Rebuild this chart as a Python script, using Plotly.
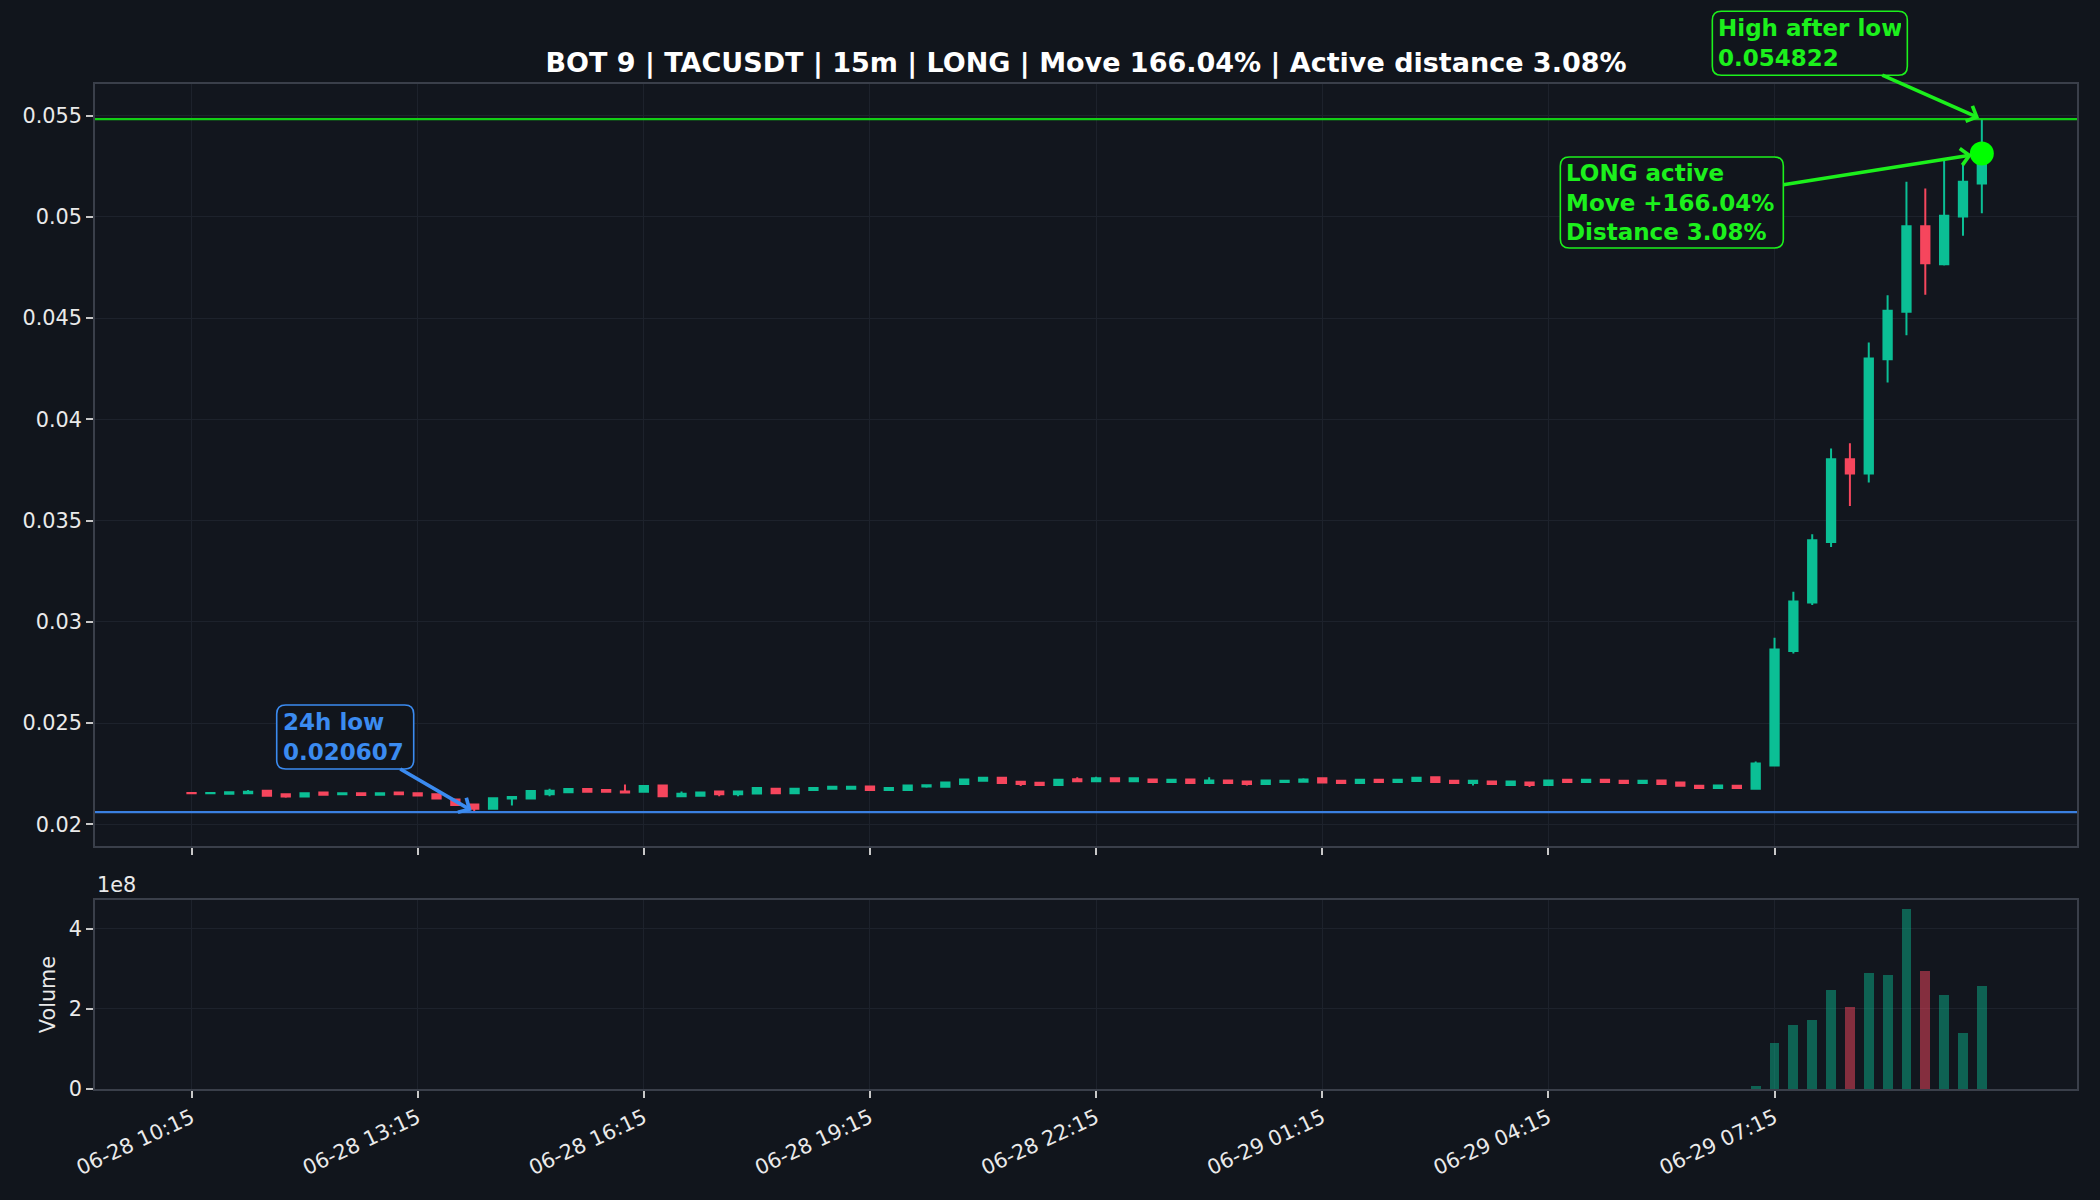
import pandas as pd
import plotly.graph_objects as go

# ---------------- data ----------------
START = "2025-06-28 10:15"
N_CANDLES = 96
TIMES = pd.date_range(START, periods=N_CANDLES, freq="15min")

OPEN = [0.02155, 0.02153, 0.02151, 0.02153, 0.02166, 0.02148, 0.02138, 0.02157, 0.02148, 0.02153,
        0.02146, 0.02157, 0.02153, 0.02149, 0.02123, 0.02098, 0.02077, 0.02127, 0.02128, 0.02149,
        0.02159, 0.02174, 0.02170, 0.02162, 0.02161, 0.02192, 0.02139, 0.02141, 0.02162, 0.02149,
        0.02152, 0.02176, 0.02154, 0.02170, 0.02176, 0.02176, 0.02187, 0.02170, 0.02170, 0.02187,
        0.02185, 0.02199, 0.02215, 0.02230, 0.02210, 0.02205, 0.02194, 0.02223, 0.02213, 0.02227,
        0.02213, 0.02222, 0.02209, 0.02222, 0.02204, 0.02217, 0.02212, 0.02199, 0.02209, 0.02210,
        0.02227, 0.02215, 0.02204, 0.02220, 0.02209, 0.02214, 0.02232, 0.02215, 0.02204, 0.02212,
        0.02194, 0.02207, 0.02194, 0.02220, 0.02209, 0.02220, 0.02215, 0.02204, 0.02217, 0.02207,
        0.02191, 0.02180, 0.02191, 0.02176, 0.02290, 0.02856, 0.03095, 0.03394, 0.03803, 0.03732,
        0.04297, 0.04531, 0.04953, 0.04766, 0.05002, 0.05165]
HIGH = [0.02157, 0.02156, 0.02160, 0.02169, 0.02167, 0.02149, 0.02155, 0.02158, 0.02159, 0.02154,
        0.02154, 0.02158, 0.02154, 0.02150, 0.02124, 0.02099, 0.02130, 0.02136, 0.02165, 0.02176,
        0.02177, 0.02175, 0.02171, 0.02197, 0.02190, 0.02193, 0.02162, 0.02158, 0.02163, 0.02163,
        0.02180, 0.02177, 0.02177, 0.02181, 0.02186, 0.02187, 0.02188, 0.02181, 0.02193, 0.02194,
        0.02208, 0.02223, 0.02231, 0.02231, 0.02211, 0.02206, 0.02221, 0.02232, 0.02235, 0.02228,
        0.02228, 0.02223, 0.02221, 0.02223, 0.02232, 0.02218, 0.02213, 0.02218, 0.02216, 0.02228,
        0.02228, 0.02216, 0.02221, 0.02221, 0.02221, 0.02231, 0.02237, 0.02216, 0.02216, 0.02217,
        0.02213, 0.02208, 0.02218, 0.02221, 0.02221, 0.02221, 0.02216, 0.02216, 0.02218, 0.02208,
        0.02192, 0.02197, 0.02192, 0.02310, 0.02922, 0.03149, 0.03432, 0.03856, 0.03882, 0.04379,
        0.04613, 0.05173, 0.05140, 0.05277, 0.05260, 0.054822]
LOW = [0.02152, 0.02149, 0.02150, 0.02149, 0.02141, 0.02131, 0.02137, 0.02143, 0.02147, 0.02140,
       0.02141, 0.02147, 0.02142, 0.02127, 0.02094, 0.020607, 0.02076, 0.02093, 0.02127, 0.02139,
       0.02158, 0.02156, 0.02160, 0.02156, 0.02160, 0.02139, 0.02138, 0.02140, 0.02139, 0.02139,
       0.02151, 0.02153, 0.02153, 0.02169, 0.02175, 0.02175, 0.02169, 0.02166, 0.02169, 0.02181,
       0.02184, 0.02198, 0.02214, 0.02203, 0.02189, 0.02189, 0.02193, 0.02212, 0.02209, 0.02212,
       0.02212, 0.02208, 0.02208, 0.02203, 0.02203, 0.02203, 0.02192, 0.02198, 0.02208, 0.02209,
       0.02206, 0.02203, 0.02203, 0.02208, 0.02208, 0.02213, 0.02208, 0.02203, 0.02192, 0.02198,
       0.02193, 0.02184, 0.02193, 0.02208, 0.02208, 0.02208, 0.02203, 0.02203, 0.02198, 0.02189,
       0.02179, 0.02179, 0.02179, 0.02172, 0.02288, 0.02844, 0.03083, 0.03369, 0.03572, 0.03688,
       0.04182, 0.04415, 0.04615, 0.04760, 0.04906, 0.05018]
CLOSE = [0.02153, 0.02155, 0.02159, 0.02161, 0.02141, 0.02138, 0.02154, 0.02146, 0.02154, 0.02145,
         0.02153, 0.02148, 0.02143, 0.02128, 0.02095, 0.02077, 0.02129, 0.02135, 0.02164, 0.02166,
         0.02174, 0.02161, 0.02161, 0.02157, 0.02189, 0.02139, 0.02151, 0.02157, 0.02149, 0.02162,
         0.02179, 0.02154, 0.02176, 0.02180, 0.02185, 0.02186, 0.02170, 0.02180, 0.02192, 0.02193,
         0.02207, 0.02222, 0.02230, 0.02204, 0.02199, 0.02194, 0.02220, 0.02213, 0.02227, 0.02213,
         0.02227, 0.02209, 0.02220, 0.02204, 0.02217, 0.02204, 0.02199, 0.02217, 0.02215, 0.02222,
         0.02207, 0.02204, 0.02220, 0.02209, 0.02220, 0.02230, 0.02209, 0.02204, 0.02215, 0.02199,
         0.02212, 0.02194, 0.02217, 0.02209, 0.02220, 0.02209, 0.02204, 0.02215, 0.02199, 0.02190,
         0.02180, 0.02192, 0.02180, 0.02300, 0.02864, 0.03100, 0.03403, 0.03803, 0.03732, 0.04300,
         0.04536, 0.04953, 0.04771, 0.05005, 0.05173, 0.05313]
VOLUME_M = [0.4, 0.3, 0.3, 0.4, 0.6, 0.5, 0.4, 0.3, 0.2, 0.3,
            0.2, 0.3, 0.3, 0.6, 0.8, 1.0, 0.9, 0.5, 0.6, 0.5,
            0.4, 0.3, 0.3, 0.4, 0.5, 0.7, 0.3, 0.3, 0.2, 0.3,
            0.4, 0.3, 0.3, 0.2, 0.2, 0.2, 0.3, 0.2, 0.3, 0.2,
            0.4, 0.5, 0.4, 0.4, 0.3, 0.3, 0.4, 0.2, 0.3, 0.2,
            0.2, 0.2, 0.2, 0.3, 0.3, 0.2, 0.2, 0.3, 0.2, 0.2,
            0.3, 0.2, 0.2, 0.2, 0.2, 0.3, 0.3, 0.2, 0.2, 0.2,
            0.2, 0.2, 0.3, 0.2, 0.2, 0.2, 0.2, 0.2, 0.2, 0.3,
            0.3, 0.2, 0.2, 8.3, 114, 159, 173, 248, 204, 289,
            285, 450, 294, 236, 141, 256]
VOLUME = [v * 1e6 for v in VOLUME_M]

LOW_24H = 0.020607
HIGH_AFTER_LOW = 0.054822
MOVE_PCT = 166.04
ACTIVE_DIST_PCT = 3.08

TICK_TIMES = ["2025-06-28 10:15", "2025-06-28 13:15", "2025-06-28 16:15", "2025-06-28 19:15",
              "2025-06-28 22:15", "2025-06-29 01:15", "2025-06-29 04:15", "2025-06-29 07:15"]
PRICE_TICKS = [0.02, 0.025, 0.03, 0.035, 0.04, 0.045, 0.05, 0.055]
PRICE_TICK_TEXT = ["0.02", "0.025", "0.03", "0.035", "0.04", "0.045", "0.05", "0.055"]
VOL_TICKS = [0, 2e8, 4e8]
VOL_TICK_TEXT = ["0", "2", "4"]

TITLE = (f"BOT 9 | TACUSDT | 15m | LONG | Move {MOVE_PCT:.2f}% | "
         f"Active distance {ACTIVE_DIST_PCT:.2f}%")

# ---------------- style ----------------
BG = "#12161e"
PAPER = "#11151c"
GREEN = "#0bbf95"
RED = "#f6465d"
GREEN_VOL = "rgba(11,191,149,0.45)"
RED_VOL = "rgba(246,70,93,0.5)"
LIME = "#1cf01c"
LIME_LINE = "rgba(20,225,20,0.9)"
BLUE = "#3b8bf0"
BLUE_LINE = "#3a7fe0"
GRID = "#1d222c"
FRAME = "#3a3f4a"
TICKC = "#c8c8c8"
TXT = "#eaeaea"
FONT = "DejaVu Sans"
TICK_SIZE = 20.8
Y_RANGE = [0.01893, 0.05656]
X_RANGE = ["2025-06-28 08:58:10", "2025-06-29 11:15:45"]

fig = go.Figure()

fig.add_trace(go.Candlestick(
    x=TIMES, open=OPEN, high=HIGH, low=LOW, close=CLOSE,
    increasing=dict(line=dict(color=GREEN, width=2), fillcolor=GREEN),
    decreasing=dict(line=dict(color=RED, width=2), fillcolor=RED),
    whiskerwidth=0, showlegend=False, hoverinfo="skip",
    xaxis="x", yaxis="y"))

vol_colors = [GREEN_VOL if c >= o else RED_VOL for o, c in zip(OPEN, CLOSE)]
fig.add_trace(go.Bar(
    x=TIMES, y=VOLUME, marker=dict(color=vol_colors, line=dict(width=0)),
    width=0.52 * 15 * 60 * 1000, showlegend=False, hoverinfo="skip",
    xaxis="x2", yaxis="y2"))

fig.add_trace(go.Scatter(
    x=[TIMES[-1]], y=[CLOSE[-1]], mode="markers",
    marker=dict(size=24, color="#00ff00"), showlegend=False, hoverinfo="skip",
    xaxis="x", yaxis="y"))

fig.add_shape(type="line", xref="x domain", x0=0, x1=1, yref="y",
              y0=HIGH_AFTER_LOW, y1=HIGH_AFTER_LOW, line=dict(color=LIME_LINE, width=2.2))
fig.add_shape(type="line", xref="x domain", x0=0, x1=1, yref="y",
              y0=LOW_24H, y1=LOW_24H, line=dict(color=BLUE_LINE, width=2.2))

low_idx = LOW.index(min(LOW))
ann_font = dict(family=FONT, size=23, weight="bold")
PAD = 6
RADIUS = 9


def rounded_box(x, y, ax, ay, w, h, color):
    """Rounded label box, sized in pixels, centred at the annotation offset.
    Anchored in y-domain units so it is not clipped outside the plot area."""
    y_dom = (y - Y_RANGE[0]) / (Y_RANGE[1] - Y_RANGE[0])
    cx, cy = ax, -ay
    hw, hh, r = w / 2, h / 2, RADIUS
    l, rt, t, b = cx - hw, cx + hw, cy + hh, cy - hh
    path = (f"M{l + r},{t} L{rt - r},{t} Q{rt},{t} {rt},{t - r} "
            f"L{rt},{b + r} Q{rt},{b} {rt - r},{b} L{l + r},{b} "
            f"Q{l},{b} {l},{b + r} L{l},{t - r} Q{l},{t} {l + r},{t} Z")
    fig.add_shape(type="path", xref="x", yref="y domain", xsizemode="pixel", ysizemode="pixel",
                  xanchor=x, yanchor=y_dom, path=path, fillcolor=PAPER,
                  line=dict(color=color, width=1.6), layer="above")


def label(x, y, text, ax, ay, w, h, color, standoff):
    rounded_box(x, y, ax, ay, w, h, color)
    fig.add_annotation(
        x=x, y=y, xref="x", yref="y", text=text, align="left", valign="middle",
        font=dict(color=color, **ann_font), ax=ax, ay=ay,
        width=w - 2 * PAD, height=h - 2 * PAD, borderpad=PAD, borderwidth=0,
        showarrow=True, arrowhead=4, arrowsize=0.9, arrowwidth=3.6,
        arrowcolor=color, standoff=standoff)


label(TIMES[-1], HIGH_AFTER_LOW, f"High after low<br>{HIGH_AFTER_LOW:.6f}",
      -172, -76, 195, 64, LIME, 3)
label(TIMES[-1], CLOSE[-1],
      f"LONG active<br>Move +{MOVE_PCT:.2f}%<br>Distance {ACTIVE_DIST_PCT:.2f}%",
      -310, 49, 223, 91, LIME, 10)
label(TIMES[low_idx], LOW_24H, f"24h low<br>{LOW_24H:.6f}",
      -129, -75, 137, 64, BLUE, 3)

fig.add_annotation(
    x=0, y=0.18806, xref="paper", yref="paper", xanchor="left", yanchor="bottom",
    text="1e8", showarrow=False, yshift=1,
    font=dict(family=FONT, size=TICK_SIZE, color=TXT))

common_x = dict(
    type="date", range=X_RANGE, tickvals=TICK_TIMES, tickformat="%m-%d %H:%M",
    showgrid=True, gridcolor=GRID, gridwidth=1,
    showline=True, mirror=True, linecolor=FRAME, linewidth=1.5,
    ticks="outside", ticklen=7, tickwidth=1.5, tickcolor=TICKC,
    zeroline=False, automargin=False)
common_y = dict(
    showgrid=True, gridcolor=GRID, gridwidth=1,
    showline=True, mirror=True, linecolor=FRAME, linewidth=1.5,
    ticks="outside", ticklen=7, tickwidth=1.5, tickcolor=TICKC,
    zeroline=False, automargin=False,
    tickfont=dict(family=FONT, size=TICK_SIZE, color=TXT))

fig.update_layout(
    width=2100, height=1200,
    paper_bgcolor=PAPER, plot_bgcolor=BG,
    margin=dict(l=95, r=23, t=84, b=111),
    showlegend=False, bargap=0,
    boxgap=0.37,
    title=dict(text=TITLE, x=0.5, xref="paper", xanchor="center",
               y=1 - 63 / 1200, yref="container", yanchor="middle",
               font=dict(family=FONT, size=27, color="#ffffff", weight="bold")),
    xaxis=dict(anchor="y", domain=[0, 1], showticklabels=False,
               rangeslider=dict(visible=False), **common_x),
    xaxis2=dict(anchor="y2", domain=[0, 1], matches="x", tickangle=-25,
                tickfont=dict(family=FONT, size=TICK_SIZE, color=TXT), **common_x),
    yaxis=dict(anchor="x", domain=[0.24179, 1], range=Y_RANGE,
               tickvals=PRICE_TICKS, ticktext=PRICE_TICK_TEXT, **common_y),
    yaxis2=dict(anchor="x2", domain=[0, 0.18806], range=[0, 4.72e8],
                tickvals=VOL_TICKS, ticktext=VOL_TICK_TEXT,
                title=dict(text="Volume", standoff=8,
                           font=dict(family=FONT, size=TICK_SIZE, color=TXT)),
                **common_y),
)

fig.write_html("out.html")
